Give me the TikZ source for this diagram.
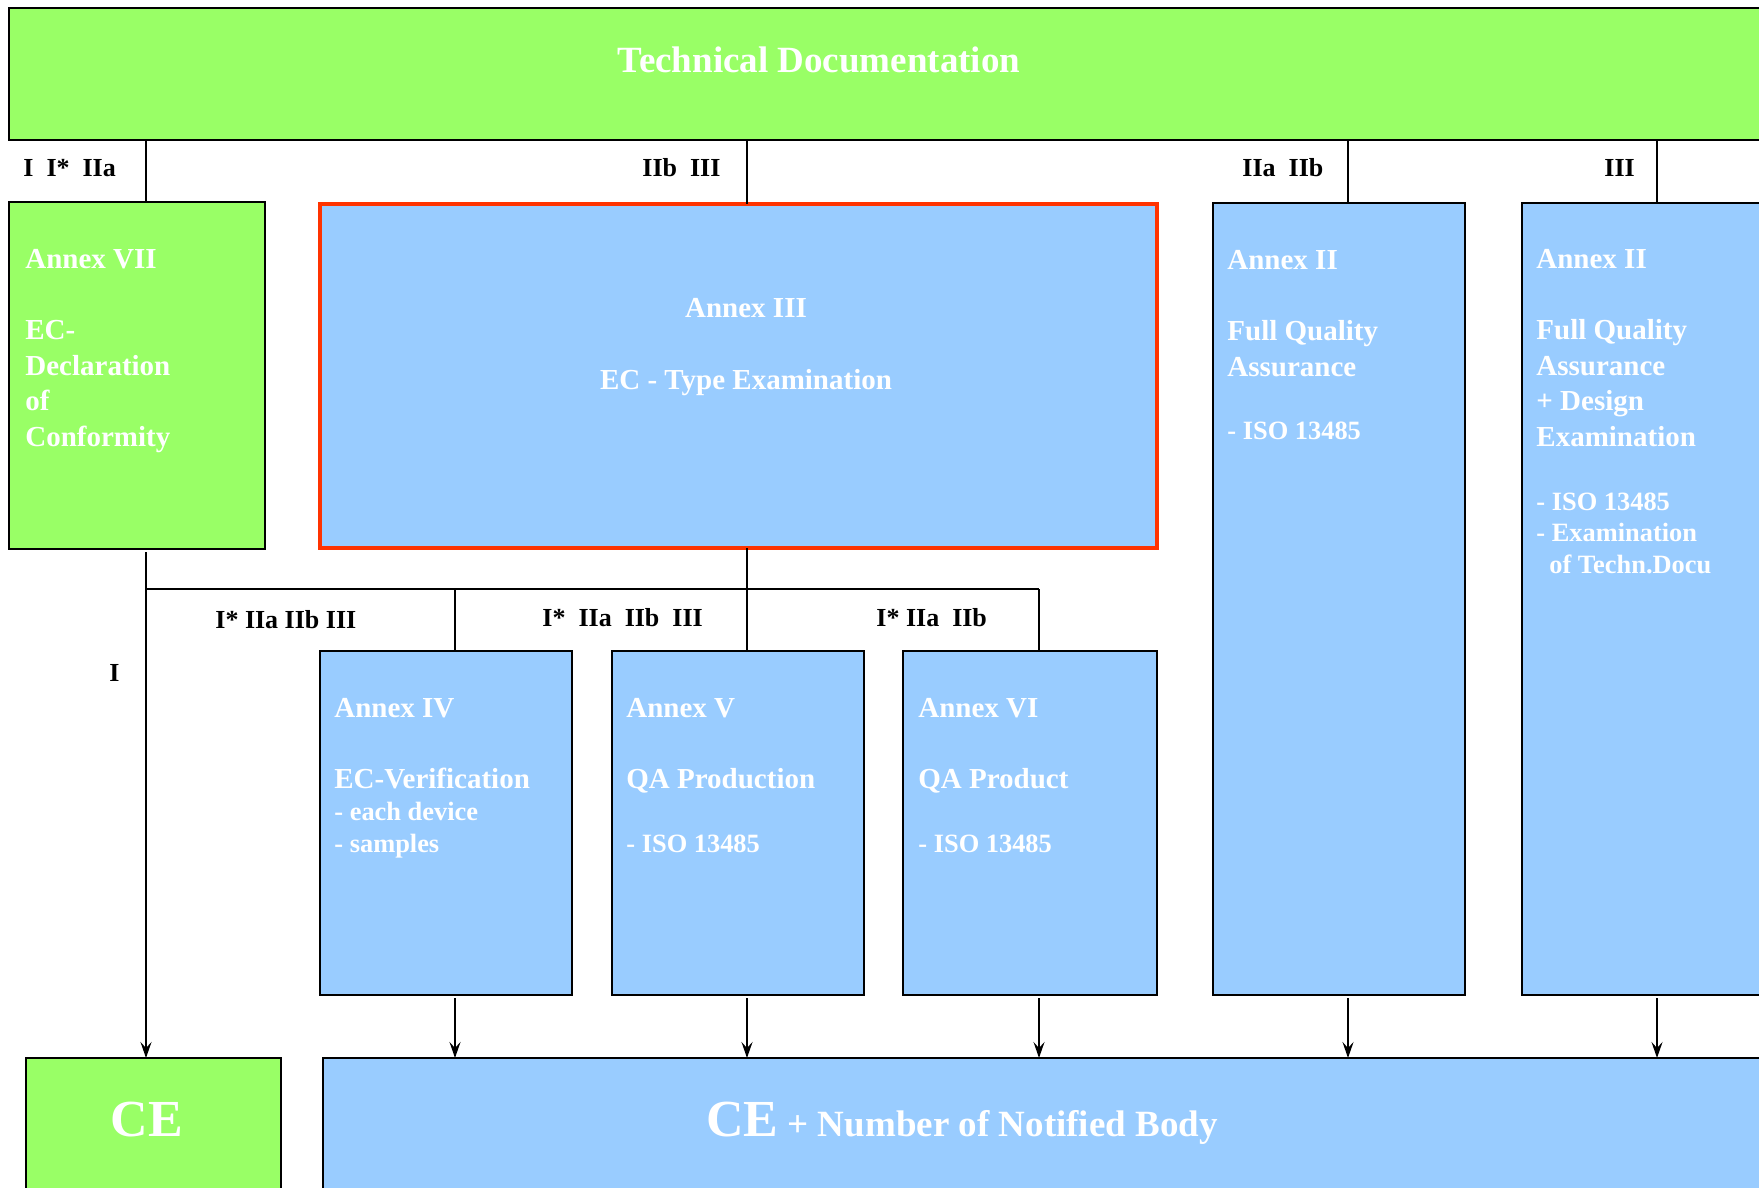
\documentclass[tikz,border=0pt]{standalone}
\usepackage{fontspec}
\setmainfont{Liberation Serif}
\usetikzlibrary{arrows.meta}
\definecolor{tgreen}{HTML}{99FF66}
\definecolor{tblue}{HTML}{99CCFF}
\definecolor{tred}{HTML}{FF3300}
\begin{document}
\begin{tikzpicture}[x=0.5pt,y=-0.5pt,
  box/.style={draw=black, line width=1.3pt, inner sep=0pt, outer sep=0pt, anchor=north west},
  gbox/.style={box, fill=tgreen},
  bbox/.style={box, fill=tblue},
  rbox/.style={box, fill=tblue, draw=tred, line width=2.3pt},
  ttxt/.style={text=white, font=\bfseries\fontsize{18.5}{22}\selectfont, anchor=base, inner sep=0pt},
  wtxt/.style={text=white, font=\bfseries\fontsize{14.5}{17.75}\selectfont, align=left, anchor=base west, inner sep=0pt},
  stxt/.style={text=white, font=\bfseries\fontsize{13.2}{15.75}\selectfont, align=left, anchor=base west, inner sep=0pt},
  lbl/.style={text=black, font=\bfseries\fontsize{13}{15}\selectfont, anchor=base west, inner sep=0pt},
  conn/.style={draw=black, line width=1pt},
  arr/.style={conn, -{Stealth[length=8pt,width=5.5pt,inset=3pt]}, shorten <=1.5pt},
]
\useasboundingbox (0,0) rectangle (1759,1187);
\clip (0,0) rectangle (1759,1187);
\fill[white] (0,0) rectangle (1759,1187);

% column positions
\coordinate (cA) at (146,0);
\coordinate (cB) at (455,0);
\coordinate (cC) at (747,0);
\coordinate (cD) at (1039,0);
\coordinate (cE) at (1348,0);
\coordinate (cF) at (1657,0);
\coordinate (hy) at (0,589);

% boxes
\node[gbox, minimum width=895.5pt, minimum height=66pt] (td) at (9,8) {};
\node[gbox, minimum width=128pt, minimum height=173.5pt] (vii) at (9,202) {};
\node[rbox, minimum width=418.5pt, minimum height=172pt] (iii) at (320,204) {};
\node[bbox, minimum width=126pt, minimum height=396pt] (iia) at (1213,203) {};
\node[bbox, minimum width=139pt, minimum height=396pt] (iib) at (1522,203) {};
\node[bbox, minimum width=126pt, minimum height=172pt] (iv) at (320,651) {};
\node[bbox, minimum width=126pt, minimum height=172pt] (av) at (612,651) {};
\node[bbox, minimum width=127pt, minimum height=172pt] (vi) at (903,651) {};
\node[gbox, minimum width=127.5pt, minimum height=81pt] (ce) at (26,1058) {};
\node[bbox, minimum width=738.5pt, minimum height=81pt] (cen) at (323,1058) {};

% connectors
\draw[conn] (td.south -| cA) -- (vii.north -| cA);
\draw[conn] (td.south -| cC) -- (iii.north -| cC);
\draw[conn] (td.south -| cE) -- (iia.north -| cE);
\draw[conn] (td.south -| cF) -- (iib.north -| cF);
\draw[arr] (vii.south -| cA) -- (ce.north -| cA);
\draw[conn] (hy -| cA) -- (hy -| cD);
\draw[conn] (iii.south -| cC) -- (av.north -| cC);
\draw[conn] (hy -| cB) -- (iv.north -| cB);
\draw[conn] (hy -| cD) -- (vi.north -| cD);
\draw[arr] (iv.south -| cB) -- (cen.north -| cB);
\draw[arr] (av.south -| cC) -- (cen.north -| cC);
\draw[arr] (vi.south -| cD) -- (cen.north -| cD);
\draw[arr] (iia.south -| cE) -- (cen.north -| cE);
\draw[arr] (iib.south -| cF) -- (cen.north -| cF);

% title
\node[ttxt] (tdt) at (819,73) {Technical Documentation};

% labels
\node[lbl] (l1) at (23,177) {I~~I*~~IIa};
\node[lbl] (l2) at (642,177) {IIb~~III};
\node[lbl] (l3) at (1242,177) {IIa~~IIb};
\node[lbl] (l4) at (1604,177) {III};
\node[lbl] (l5) at (215,628) {I* IIa IIb III};
\node[lbl] (l6) at (542,626) {I*~~IIa~~IIb~~III};
\node[lbl] (l7) at (876,626) {I* IIa~~IIb};
\node[lbl] (l8) at (109,681) {I};

% box texts (base anchor = baseline of the last line)
\node[wtxt] (viit) at (25,446) {Annex VII\\[17.75pt]EC-\\Declaration\\of\\Conformity};
\node[wtxt, anchor=base, align=center] (iiit1) at (746,318) {Annex III};
\node[wtxt, anchor=base, align=center] (iiit2) at (746,389) {EC - Type Examination};
\node[wtxt] (iiat) at (1227,376) {Annex II\\[17.75pt]Full Quality\\Assurance};
\node[stxt] (iias) at (1227,439) {- ISO 13485};
\node[wtxt] (iibt) at (1536,446) {Annex II\\[17.75pt]Full Quality\\Assurance\\+ Design\\Examination};
\node[stxt] (iibs) at (1536,573) {- ISO 13485\\- Examination\\\hspace*{6.5pt}of Techn.Docu};
\node[wtxt] (ivt) at (334,788) {Annex IV\\[17.75pt]EC-Verification};
\node[stxt] (ivs) at (334,852) {- each device\\- samples};
\node[wtxt] (avt) at (626,788) {Annex V\\[17.75pt]QA Production};
\node[stxt] (avs) at (626,852) {- ISO 13485};
\node[wtxt] (vit) at (918,788) {Annex VI\\[17.75pt]QA Product};
\node[stxt] (vis) at (918,852) {- ISO 13485};

% CE texts
\node[text=white, font=\bfseries\fontsize{26}{30}\selectfont, anchor=base, inner sep=0pt] (cet) at (147,1136) {CE};
\node[text=white, font=\bfseries\fontsize{18.5}{22}\selectfont, anchor=base, inner sep=0pt] (cent) at (962,1136) {{\fontsize{26}{30}\selectfont CE} + Number of Notified Body};
\end{tikzpicture}
\end{document}
